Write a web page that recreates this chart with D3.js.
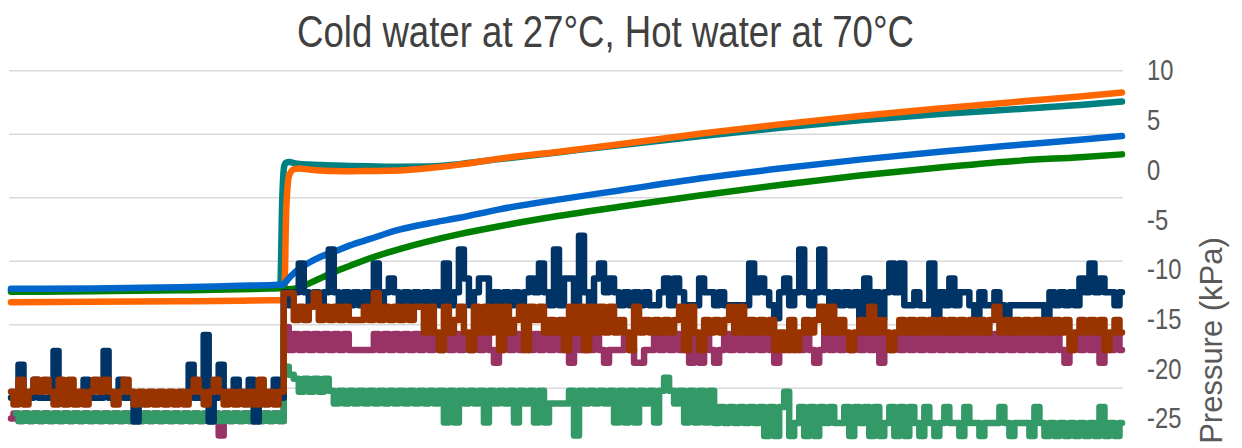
<!DOCTYPE html>
<html>
<head>
<meta charset="utf-8">
<script src="https://cdn.jsdelivr.net/npm/d3@7"></script>
<style>
  html, body { margin: 0; padding: 0; background: #ffffff; }
  svg { display: block; }
</style>
</head>
<body>
<svg id="chart" width="1242" height="448"></svg>
<script>
// ---------------------------------------------------------------
// Pressure logged during the cold/hot water test (kPa vs seconds)
// ---------------------------------------------------------------

// Knot times (s) for the four slowly varying pressure traces
const smoothTime = [0, 80, 168, 228, 258, 269, 271, 273, 275, 278, 283, 288, 298, 310, 323,
  338, 358, 388, 418, 448, 488, 548, 608, 688, 768, 848, 928, 1008, 1068, 1110];

const tealTrace = [-12.1, -12.1, -12.0, -11.9, -11.85, -11.8, -3.0, 0.4, 0.75, 0.8, 0.7, 0.62, 0.55, 0.5, 0.46,
  0.42, 0.38, 0.33, 0.35, 0.6, 1.1, 1.8, 2.5, 3.4, 4.25, 5.0, 5.65, 6.15, 6.55, 6.9];

const orangeTrace = [-13.3, -13.25, -13.2, -13.15, -13.1, -13.1, -13.05, -12.9, -4.0, -0.5, 0.1, 0.15, 0.05, -0.05, -0.1,
  -0.12, -0.1, -0.05, 0.2, 0.55, 1.15, 1.85, 2.6, 3.65, 4.6, 5.45, 6.2, 6.9, 7.4, 7.8];

const greenTrace = [-12.25, -12.2, -12.1, -12.0, -11.92, -11.9, -11.92, -11.95, -12.0, -12.0, -11.95, -11.85, -11.4, -10.85, -10.25,
  -9.65, -8.9, -7.95, -7.15, -6.45, -5.65, -4.6, -3.7, -2.55, -1.5, -0.55, 0.25, 0.95, 1.3, 1.58];

const blueTrace = [-11.95, -11.92, -11.8, -11.65, -11.58, -11.55, -11.55, -11.45, -11.2, -10.85, -10.35, -9.95, -9.3, -8.7, -8.2,
  -7.6, -6.95, -6.0, -5.35, -4.8, -3.95, -2.95, -2.05, -0.85, 0.15, 1.05, 1.85, 2.55, 3.05, 3.42];

// Fast-logged (quantised) traces, one reading every 5 s from t = 0 to 1110 s
const sampleInterval = 5;

const navyTrace = [
  -22.9,-22.9,-19.6,-22.9,-22.9,-21.1,-22.9,-22.9,-22.9,-18.2,
  -22.9,-22.9,-22.9,-22.9,-22.9,-21.1,-22.9,-22.9,-22.9,-18.2,
  -22.9,-22.9,-21.1,-22.9,-22.9,-25.3,-22.9,-22.9,-22.9,-22.9,
  -22.9,-22.9,-22.9,-22.9,-22.9,-22.9,-19.6,-22.9,-22.9,-16.6,
  -25.3,-22.9,-19.6,-22.9,-22.9,-21.1,-22.9,-22.9,-21.1,-25.3,
  -22.9,-22.9,-22.9,-21.1,-22.9,-12.3,-13.6,-12.3,-9.4,-12.3,
  -13.6,-12.3,-13.6,-12.3,-8.0,-12.3,-13.6,-12.3,-13.6,-12.3,
  -13.6,-12.3,-13.6,-9.4,-13.6,-12.3,-10.9,-12.3,-13.6,-12.3,
  -13.6,-12.3,-13.6,-12.3,-13.6,-12.3,-13.6,-9.4,-13.6,-12.3,
  -8.0,-10.9,-13.6,-12.3,-10.9,-10.9,-13.6,-12.3,-13.6,-12.3,
  -13.6,-12.3,-13.6,-12.3,-10.9,-12.3,-9.4,-12.3,-13.6,-8.0,
  -13.6,-10.9,-10.9,-13.6,-6.6,-12.3,-13.6,-10.9,-9.4,-12.3,
  -10.9,-12.3,-13.6,-12.3,-13.6,-12.3,-13.6,-12.3,-13.6,-13.6,
  -12.3,-10.9,-13.6,-10.9,-12.3,-13.6,-13.6,-13.6,-10.9,-12.3,
  -12.3,-13.6,-12.3,-13.6,-13.6,-13.6,-13.6,-13.6,-9.4,-12.3,
  -10.9,-12.3,-13.6,-14.9,-12.3,-10.9,-13.6,-12.3,-8.0,-12.3,
  -13.6,-12.3,-8.0,-12.3,-13.6,-12.3,-13.6,-12.3,-13.6,-12.3,
  -14.9,-10.9,-13.6,-12.3,-14.9,-12.3,-9.4,-12.3,-9.4,-13.6,
  -13.6,-12.3,-13.6,-13.6,-9.4,-14.9,-12.3,-13.6,-10.9,-13.6,
  -12.3,-12.3,-13.6,-14.9,-12.3,-13.6,-13.6,-12.3,-13.6,-14.9,
  -13.6,-13.6,-13.6,-13.6,-13.6,-13.6,-13.6,-14.9,-12.3,-13.6,
  -12.3,-13.6,-12.3,-13.6,-10.9,-12.3,-9.4,-12.3,-10.9,-12.3,
  -12.3,-13.6,-12.3
];

const brownTrace = [
  -22.3,-23.6,-21.1,-23.6,-22.3,-21.1,-22.3,-21.1,-22.3,-23.6,
  -21.1,-23.6,-21.1,-23.6,-22.3,-23.6,-22.3,-21.1,-22.3,-21.1,
  -22.3,-23.6,-22.3,-21.1,-22.3,-23.6,-22.3,-23.6,-22.3,-23.6,
  -22.3,-23.6,-22.3,-23.6,-22.3,-23.6,-22.3,-21.1,-22.3,-23.6,
  -22.3,-21.1,-22.3,-23.6,-22.3,-23.6,-22.3,-23.6,-22.3,-23.6,
  -21.1,-23.6,-22.3,-23.6,-22.3,-12.4,-12.4,-15.1,-13.75,-15.1,
  -13.75,-12.4,-15.1,-13.75,-15.1,-13.75,-15.1,-13.75,-15.1,-15.1,
  -15.1,-13.75,-15.1,-12.4,-15.1,-13.75,-15.1,-13.75,-15.1,-13.75,
  -15.1,-13.75,-13.75,-16.35,-13.75,-16.35,-18.1,-13.75,-16.35,-15.1,
  -13.75,-16.35,-18.1,-13.75,-16.35,-13.75,-16.35,-13.75,-18.1,-13.75,
  -16.35,-15.1,-13.75,-18.1,-13.75,-15.1,-13.75,-16.35,-15.1,-16.35,
  -15.1,-18.1,-13.75,-16.35,-13.75,-18.1,-13.75,-16.35,-13.75,-16.35,
  -13.75,-16.35,-15.1,-16.35,-18.1,-13.75,-16.35,-15.1,-16.35,-15.1,
  -16.35,-15.1,-16.35,-15.1,-13.75,-18.1,-13.75,-16.35,-18.1,-15.1,
  -16.35,-15.1,-16.35,-15.1,-13.75,-16.35,-13.75,-16.35,-15.1,-16.35,
  -15.1,-16.35,-15.1,-18.1,-16.35,-18.1,-15.1,-18.1,-16.35,-15.1,
  -16.35,-15.1,-13.75,-16.35,-13.75,-16.35,-15.1,-16.35,-18.1,-16.35,
  -15.1,-16.35,-13.75,-16.35,-15.1,-16.35,-18.1,-16.35,-15.1,-16.35,
  -15.1,-16.35,-15.1,-16.35,-15.1,-16.35,-15.1,-16.35,-15.1,-16.35,
  -15.1,-16.35,-15.1,-16.35,-15.1,-16.35,-15.1,-13.75,-16.35,-15.1,
  -16.35,-15.1,-16.35,-15.1,-16.35,-15.1,-16.35,-15.1,-16.35,-15.1,
  -16.35,-15.1,-18.1,-16.35,-15.1,-16.35,-15.1,-16.35,-15.1,-18.1,
  -16.35,-15.1,-16.35
];

const purpleTrace = [
  -25.0,-24.5,-25.25,-24.5,-25.25,-24.5,-25.25,-24.5,-25.25,-24.5,
  -25.25,-24.5,-25.25,-24.5,-25.25,-24.5,-25.25,-24.5,-25.25,-24.5,
  -25.25,-24.5,-25.25,-24.5,-25.25,-24.5,-25.25,-24.5,-25.25,-24.5,
  -25.25,-24.5,-25.25,-24.5,-25.25,-24.5,-25.25,-24.5,-25.25,-24.5,
  -25.25,-24.5,-26.7,-24.5,-25.25,-24.5,-25.25,-24.5,-25.25,-24.5,
  -25.25,-24.5,-25.25,-24.5,-25.25,-15.8,-18.1,-16.5,-18.1,-16.5,
  -18.1,-16.5,-18.1,-16.5,-18.1,-16.5,-18.1,-16.5,-18.1,-18.1,
  -18.1,-18.1,-18.1,-16.5,-18.1,-16.5,-18.1,-16.5,-18.1,-16.5,
  -18.1,-16.5,-18.1,-16.5,-18.1,-16.5,-18.1,-16.5,-18.1,-16.5,
  -18.1,-16.5,-18.1,-16.5,-18.1,-16.5,-18.1,-19.4,-18.1,-16.5,
  -18.1,-16.5,-18.1,-16.5,-18.1,-16.5,-18.1,-16.5,-18.1,-16.5,
  -18.1,-16.5,-19.4,-16.5,-18.1,-18.1,-18.1,-16.5,-18.1,-19.4,
  -18.1,-18.1,-18.1,-16.5,-18.1,-19.4,-19.4,-18.1,-18.1,-16.5,
  -18.1,-16.5,-18.1,-16.5,-18.1,-16.5,-19.4,-16.5,-19.4,-16.5,
  -18.1,-19.4,-18.1,-16.5,-18.1,-16.5,-18.1,-16.5,-18.1,-16.5,
  -18.1,-16.5,-18.1,-19.4,-18.1,-16.5,-18.1,-16.5,-18.1,-16.5,
  -18.1,-19.4,-18.1,-16.5,-18.1,-16.5,-18.1,-16.5,-18.1,-16.5,
  -18.1,-16.5,-18.1,-16.5,-19.4,-16.5,-18.1,-16.5,-18.1,-16.5,
  -18.1,-16.5,-18.1,-16.5,-18.1,-16.5,-18.1,-16.5,-18.1,-16.5,
  -18.1,-16.5,-18.1,-16.5,-18.1,-16.5,-18.1,-16.5,-18.1,-16.5,
  -18.1,-16.5,-18.1,-16.5,-18.1,-16.5,-18.1,-16.5,-18.1,-16.5,
  -18.1,-19.4,-18.1,-16.5,-18.1,-16.5,-18.1,-16.5,-19.4,-16.5,
  -18.1,-16.5,-18.1
];

const seaGreenTrace = [
  null,-24.5,-25.25,-24.5,-25.25,-24.5,-25.25,-24.5,-25.25,-24.5,
  -25.25,-24.5,-25.25,-24.5,-25.25,-24.5,-25.25,-24.5,-25.25,-24.5,
  -25.25,-24.5,-25.25,-24.5,-25.25,-24.5,-25.25,-24.5,-25.25,-24.5,
  -25.25,-24.5,-25.25,-24.5,-25.25,-24.5,-25.25,-24.5,-25.25,-24.5,
  -25.25,-24.5,-25.25,-24.5,-25.25,-24.5,-25.25,-24.5,-25.25,-24.5,
  -25.25,-24.5,-25.25,-24.5,-25.25,-19.8,-20.6,-21.0,-22.3,-21.0,
  -22.3,-21.0,-22.3,-21.0,-22.2,-23.5,-22.2,-23.5,-22.2,-23.5,
  -22.2,-23.5,-22.2,-23.5,-22.2,-23.5,-22.2,-23.5,-22.2,-23.5,
  -22.2,-23.5,-22.2,-23.5,-22.2,-23.5,-22.2,-25.4,-22.2,-25.4,
  -22.2,-23.5,-22.2,-23.5,-22.2,-25.4,-22.2,-23.5,-22.2,-23.5,
  -22.2,-25.4,-22.2,-23.5,-22.2,-25.4,-22.2,-25.4,-23.5,-23.5,
  -23.5,-23.5,-22.2,-26.7,-22.2,-23.5,-22.2,-23.5,-22.2,-23.5,
  -22.2,-25.4,-22.2,-25.4,-22.2,-25.4,-22.2,-23.5,-22.2,-25.4,
  -22.2,-20.9,-22.2,-23.5,-22.2,-25.4,-22.2,-25.4,-22.2,-25.4,
  -22.2,-25.45,-23.85,-25.45,-23.85,-25.45,-23.85,-25.45,-23.85,-25.45,
  -23.85,-26.75,-23.85,-26.75,-23.85,-22.3,-26.75,-25.45,-23.85,-26.75,
  -23.85,-26.75,-23.85,-25.45,-23.85,-25.45,-25.45,-23.85,-26.75,-23.85,
  -25.45,-23.85,-26.75,-23.85,-26.75,-25.45,-23.85,-26.75,-23.85,-26.75,
  -23.85,-25.45,-26.75,-23.85,-25.45,-26.75,-25.45,-23.85,-25.45,-25.45,
  -26.75,-23.85,-25.45,-25.45,-26.75,-25.45,-25.45,-25.45,-23.85,-25.45,
  -26.75,-25.45,-25.45,-25.45,-26.75,-23.85,-25.45,-26.75,-25.45,-26.75,
  -25.45,-26.75,-25.45,-26.75,-25.45,-26.75,-25.45,-26.75,-23.85,-26.75,
  -25.45,-26.75,-25.45
];

// Secondary (right) pressure axis ticks, kPa
const pressureTicks = [10, 5, 0, -5, -10, -15, -20, -25];
// Primary axis levels that carry the horizontal gridlines
const gridLevels = [35, 30, 25, 20, 15, 10];

const titleText = "Cold water at 27\u00B0C, Hot water at 70\u00B0C";
const axisTitle = "Pressure (kPa)";

// ---------------------------------------------------------------
const svg = d3.select("#chart");
const FONT = "'Liberation Sans', Arial, sans-serif";

const x = d3.scaleLinear().domain([0, 1110]).range([11, 1122]);
const yRight = d3.scaleLinear().domain([-25, 10]).range([418.5, 70.7]);
const yPrimary = d3.scaleLinear().domain([5, 35]).range([451.7, 70.7]);

// gridlines (primary axis)
svg.append("g")
  .selectAll("line")
  .data(gridLevels)
  .join("line")
  .attr("x1", 9)
  .attr("x2", 1123)
  .attr("y1", d => yPrimary(d))
  .attr("y2", d => yPrimary(d))
  .attr("stroke", "#d9d9d9")
  .attr("stroke-width", 1.5);

const smoothLine = d3.line()
  .defined(d => d.v != null)
  .x(d => x(d.t))
  .y(d => yRight(d.v))
  .curve(d3.curveMonotoneX);

// quantised logger readings hold their value until the next sample
const heldLine = d3.line()
  .defined(d => d.v != null)
  .x(d => x(d.t))
  .y(d => yRight(d.v))
  .curve(d3.curveStep);

const smoothSeries = [
  { values: tealTrace, color: "#008080" },
  { values: orangeTrace, color: "#ff6600" },
  { values: greenTrace, color: "#008000" },
  { values: blueTrace, color: "#0066cc" }
];

const loggedSeries = [
  { values: purpleTrace, color: "#993366" },
  { values: seaGreenTrace, color: "#339966" },
  { values: navyTrace, color: "#003366" },
  { values: brownTrace, color: "#993300" }
];

const plot = svg.append("g");

smoothSeries.forEach(s => {
  const pts = s.values.map((v, i) => ({ t: smoothTime[i], v }));
  plot.append("path")
    .attr("d", smoothLine(pts))
    .attr("fill", "none")
    .attr("stroke", s.color)
    .attr("stroke-width", 6.5)
    .attr("stroke-linejoin", "round")
    .attr("stroke-linecap", "round");
});

loggedSeries.forEach(s => {
  const pts = s.values.map((v, i) => ({ t: i * sampleInterval, v }));
  plot.append("path")
    .attr("d", heldLine(pts))
    .attr("fill", "none")
    .attr("stroke", s.color)
    .attr("stroke-width", 6.5)
    .attr("stroke-linejoin", "round")
    .attr("stroke-linecap", "round");
});

// right pressure axis, narrow numerals
const axisG = svg.append("g")
  .attr("transform", "translate(1147,0) scale(0.82,1)")
  .call(d3.axisRight(yRight).tickValues(pressureTicks).tickSize(0).tickPadding(0)
    .tickFormat(d => String(d)));
axisG.select(".domain").remove();
axisG.selectAll("text")
  .attr("x", 0)
  .attr("fill", "#595959")
  .style("font-family", FONT)
  .style("font-size", "29px");

// axis title
svg.append("text")
  .attr("transform", "translate(1222,340.5) rotate(-90)")
  .attr("text-anchor", "middle")
  .attr("fill", "#595959")
  .style("font-family", FONT)
  .style("font-size", "31px")
  .text(axisTitle);

// chart title
svg.append("text")
  .attr("x", 297)
  .attr("y", 47)
  .attr("textLength", 617)
  .attr("lengthAdjust", "spacingAndGlyphs")
  .attr("fill", "#404040")
  .style("font-family", FONT)
  .style("font-size", "44.5px")
  .text(titleText);
</script>
</body>
</html>
